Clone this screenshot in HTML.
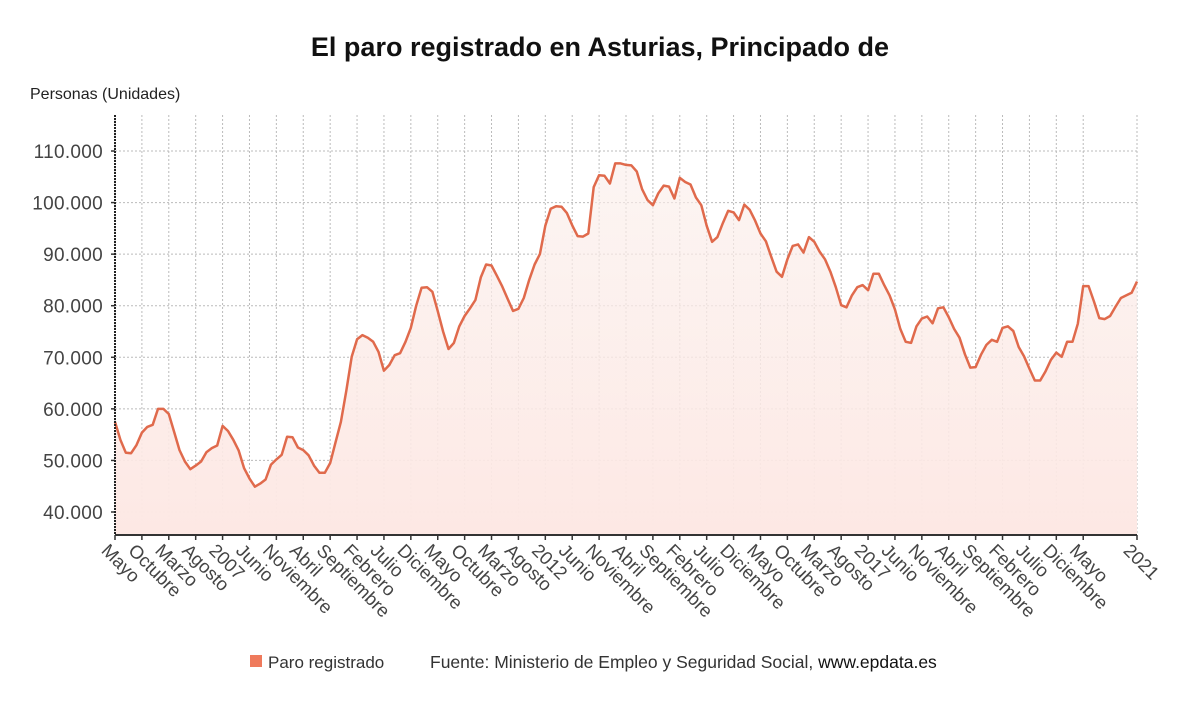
<!DOCTYPE html>
<html><head><meta charset="utf-8"><style>
body{margin:0;background:#fff;font-family:"Liberation Sans",sans-serif;}
svg text{font-family:"Liberation Sans",sans-serif;}
</style></head><body>
<svg id="chart" width="1200" height="705" viewBox="0 0 1200 705">
<defs><linearGradient id="fillg" x1="0" y1="0" x2="0" y2="1"><stop offset="0" stop-color="#fbeeea" stop-opacity="0.6"/><stop offset="1" stop-color="#fde8e4"/></linearGradient></defs>
<text x="600" y="56" text-anchor="middle" font-size="27" font-weight="bold" fill="#111">El paro registrado en Asturias, Principado de</text>
<text x="30" y="99" font-size="16" fill="#222">Personas (Unidades)</text>
<g id="grid"></g><g id="series"></g><g id="axes"></g>
<rect x="250" y="655" width="12" height="12" fill="#ef7a5c"/>
<text x="268" y="668" font-size="17" fill="#333">Paro registrado</text>
<text x="430" y="668" font-size="17.5" fill="#333">Fuente: Ministerio de Empleo y Seguridad Social, <tspan fill="#111">www.epdata.es</tspan></text>
</svg>
<script>
const values=[57.5,54,51.5,51.4,53,55.4,56.5,56.9,60,60,59,55.5,52,49.8,48.3,49,49.8,51.6,52.4,52.9,56.7,55.7,54,51.9,48.5,46.5,44.9,45.5,46.3,49.2,50.2,51.1,54.6,54.5,52.5,52,51,49,47.6,47.6,49.5,53.5,57.5,63.5,70.1,73.5,74.3,73.8,73,71,67.4,68.5,70.4,70.8,73,75.7,80,83.5,83.6,82.7,79,75,71.6,72.8,76,78,79.5,81.1,85.5,88,87.8,85.8,83.7,81.3,79,79.4,81.5,85,88,90,95.5,98.8,99.3,99.2,98,95.6,93.5,93.4,94,103,105.3,105.2,103.7,107.6,107.6,107.3,107.2,106,102.6,100.5,99.5,101.8,103.3,103.1,100.8,104.8,104,103.5,101,99.5,95.5,92.4,93.3,96,98.4,98.1,96.6,99.6,98.6,96.5,94,92.5,89.5,86.6,85.6,89,91.6,91.9,90.3,93.3,92.4,90.5,89,86.6,83.6,80.1,79.7,82,83.6,84,83,86.2,86.2,84,82,79.3,75.5,73,72.8,76,77.5,77.9,76.6,79.5,79.7,77.8,75.5,73.8,70.6,68,68.1,70.5,72.4,73.4,73,75.7,76,75.1,72,70.2,67.8,65.5,65.5,67.3,69.5,70.9,70.1,73,73,76.5,83.8,83.8,80.8,77.6,77.4,78,79.8,81.5,82,82.5,84.7];
const xLabels=["Mayo","Octubre","Marzo","Agosto","2007","Junio","Noviembre","Abril","Septiembre","Febrero","Julio","Diciembre","Mayo","Octubre","Marzo","Agosto","2012","Junio","Noviembre","Abril","Septiembre","Febrero","Julio","Diciembre","Mayo","Octubre","Marzo","Agosto","2017","Junio","Noviembre","Abril","Septiembre","Febrero","Julio","Diciembre","Mayo"];
const lastLabel="2021";
const yTicks=[40,50,60,70,80,90,100,110];
const yTickLabels=["40.000","50.000","60.000","70.000","80.000","90.000","100.000","110.000"];
const NS="http://www.w3.org/2000/svg";
const X0=115,X1=1137,YB=535,YT=115;
const n=values.length;
const xs=i=>X0+(X1-X0)*i/(n-1);
const ys=v=>512-(v-40)*5.157;
function mk(t,a,p){const e=document.createElementNS(NS,t);for(const k in a)e.setAttribute(k,a[k]);p.appendChild(e);return e;}
const grid=document.getElementById('grid'),ser=document.getElementById('series'),ax=document.getElementById('axes');
yTicks.forEach((v,k)=>{
 const l=mk('line',{x1:X0,x2:X1,y1:ys(v),y2:ys(v),stroke:'#bbb','stroke-dasharray':'2,2'},grid);
 
 
 mk('line',{x1:X0-4,x2:X0,y1:ys(v),y2:ys(v),stroke:'#333','stroke-width':1.5},ax);
 const t=mk('text',{x:103,y:ys(v)+7,'text-anchor':'end','font-size':19,fill:'#444','letter-spacing':'0.3'},ax);
 t.textContent=yTickLabels[k];
 
 
});
const tickIdx=xLabels.map((_,k)=>k*5);tickIdx.push(n-1);
const labs=xLabels.concat([lastLabel]);
tickIdx.forEach((i,k)=>{
 const x=xs(i);
 const g=mk('line',{x1:x,x2:x,y1:YT,y2:YB,stroke:'#bbb','stroke-dasharray':'2,2'},grid);
 
 
 mk('line',{x1:x,x2:x,y1:YB,y2:YB+5,stroke:'#333','stroke-width':1.5},ax);
 const t=mk('text',{x:x-5,y:542,'font-size':18.5,fill:'#444','dominant-baseline':'hanging',transform:`rotate(45 ${x-5} 542)`},ax);
 t.textContent=labs[k];
 
 
});
let d=values.map((v,i)=>(i?'L':'M')+xs(i).toFixed(1)+','+ys(v).toFixed(1)).join('');
const area=mk('path',{d:d+`L${X1},${YB}L${X0},${YB}Z`,fill:'url(#fillg)'},ser);


const line=mk('path',{d:d,fill:'none',stroke:'#e06a4c','stroke-width':2.5,'stroke-linejoin':'round'},ser);


const xa=mk('line',{x1:X0,x2:X1,y1:YB,y2:YB,stroke:'#333','stroke-width':2},ax);


const ya=mk('line',{x1:X0,x2:X0,y1:YT,y2:YB,stroke:'#222','stroke-width':2,'stroke-dasharray':'2,1'},ax);


</script>
</body></html>
